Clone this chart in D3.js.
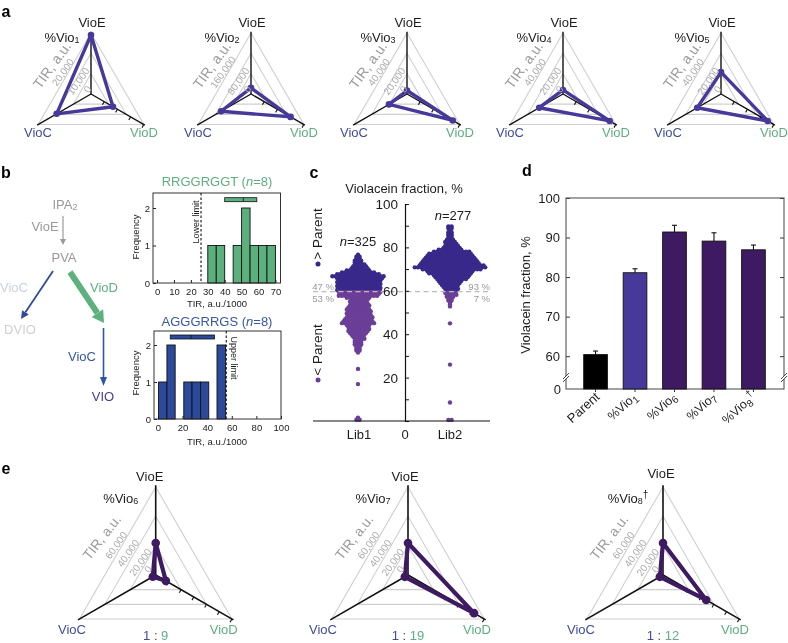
<!DOCTYPE html>
<html><head><meta charset="utf-8">
<script src="https://cdn.jsdelivr.net/npm/d3@7"></script>
<style>
html,body{margin:0;padding:0;background:#fff}
svg{display:block;filter:blur(.3px)}
text{font-family:"Liberation Sans",Arial,sans-serif}
</style></head><body>
<svg id="c" width="788" height="643"></svg>
<script>
// ---------- data ----------
const axisNames = ["VioE","VioC","VioD"];
const radarATitles = ["1","2","3","4","5"];
const radarAMax = [30000,240000,60000,60000,60000];
const radarATicks = [["10,000","20,000"],["80,000","160,000"],["20,000","40,000"],["20,000","40,000"],["20,000","40,000"]];
const vio1 = [29000,19500,12500];
const vio2 = [24000,136000,180000];
const vio3 = [3400,20500,52000];
const vio4 = [4000,27000,53000];
const vio5 = [21500,27000,53000];
const radarEMax = 60000;
const radarETicks = ["20,000","40,000","60,000"];
const vio6 = [21800,2300,8000];
const vio7 = [21800,2500,52000];
const vio8 = [21800,2500,34000];
const ratioRight = ["9","19","12"];

const hist1X0 = [30,35,45,50,55,60,65];
const hist1X1 = [35,40,50,55,60,65,70];
const hist1Y  = [1,1,1,2,1,1,1];
const hist1Ticks = [0,10,20,30,40,50,60,70];
const hist1Limit = 26;
const hist1Range = [40,51,59];
const hist2X0 = [0.5,7.3,21,27.7,34.7,48];
const hist2X1 = [7.3,14,27.7,34.7,41.3,55];
const hist2Y  = [1,2,1,1,1,2];
const hist2Ticks = [0,20,40,60,80,100];
const hist2Limit = 55.5;
const hist2Range = [10,27,46];

const lib1Levels = [76.6,75.7,74.8,73.9,73,72.1,71.2,70.3,69.4,68.5,67.6,66.7,65.8,64.9,64,63.1,62.2,61.3,60.4,59.5,58.6,57.7,56.8,55.9,55,54.1,53.2,52.3,51.4,50.5,49.6,48.7,47.8,46.9,46,45.1,44.2,43.3,42.4,41.5,40.6,39.7,38.8,37.9,37,36.1,35.2,34.3,33.4,32.5,31.6,24,17,1.5,0.6];
const lib1Counts = [1,2,2,3,3,4,5,6,8,11,14,17,15,14,14,14,14,14,14,14,13,13,8,6,6,6,7,7,8,8,8,8,9,9,10,11,8,7,7,7,6,5,4,4,3,3,3,2,2,2,1,1,1,1,2];
const lib2Levels = [89.7,88.8,87.9,87,86.1,85.2,84.3,83.4,82.5,81.6,80.7,79.8,78.9,78,77.1,76.2,75.3,74.4,73.5,72.6,71.7,70.8,69.9,69,68.1,67.2,66.3,65.4,64.5,63.6,62.7,61.8,60.9,60,59.1,58.2,57.3,56.4,55.5,54.6,53.7,52.8,45,26,8.5,0.5];
const lib2Counts = [2,2,1,2,2,2,2,3,4,4,5,6,8,12,14,15,16,17,18,19,21,23,19,15,14,12,11,10,8,7,6,5,5,4,4,4,3,2,2,1,1,1,1,1,1,2];
const parentValue = 60;

const barNames = [["Parent",""],["%Vio","1"],["%Vio","6"],["%Vio","7"],["%Vio","8"]];
const barValues = [60.4,81.1,91.4,89.1,86.9];
const barErrors = [61.3,82.1,93.1,91.2,88.1];
const barTicks = [60,70,80,90,100];

// ---------- palette ----------
const purpleA="#47399a", purpleE="#3d1a62", blue="#3f4c9e", green="#5fae80", grey="#999", ring="#cfcfcf", ink="#1c1c1c";
const svg=d3.select("#c");
function T(x,y,s,o={}){
  const t=svg.append("text").attr("x",x).attr("y",y).attr("font-size",o.size||13).attr("fill",o.fill||ink)
    .attr("text-anchor",o.anchor||"middle").attr("dominant-baseline","central");
  if(o.weight)t.attr("font-weight",o.weight);
  if(o.rot!=null)t.attr("transform",`rotate(${o.rot} ${x} ${y})`);
  t.append("tspan").text(s).attr("font-style",o.italic?"italic":null);
  return t;
}
function sub(t,s,size,dy=3){t.append("tspan").attr("dy",dy).attr("font-size",size).text(s);return t;}

// ---------- radar ----------
const ang=[-90,150,30].map(d=>d*Math.PI/180);
function pt(r,k,cx,cy){return [cx+r*Math.cos(ang[k]),cy+r*Math.sin(ang[k])];}
function radar(o){
  const {cx,cy,R,max,vals,color,sw,dot,tickStep}=o;
  const r=d3.scaleLinear().domain([0,max]).range([0,R]);
  const g=svg.append("g");
  const line=d3.line();
  (o.rings).forEach(v=>{
    g.append("path").attr("d",line([0,1,2].map(k=>pt(r(v),k,cx,cy)))+"Z").attr("fill","none").attr("stroke",ring).attr("stroke-width",1.1);
  });
  [0,1,2].forEach(k=>{
    g.append("path").attr("d",line([[cx,cy],pt(R*1.02,k,cx,cy)])).attr("stroke","#111").attr("stroke-width",o.axisW).attr("fill","none");
  });
  d3.range(tickStep,max*1.001,tickStep).forEach(v=>{
    const p=pt(r(v),2,cx,cy);
    g.append("path").attr("d",line([p,[p[0]-1.8,p[1]+3.1]])).attr("stroke","#111").attr("stroke-width",1.1);
  });
  const poly=vals.map((v,k)=>pt(r(v),k,cx,cy));
  g.append("path").attr("d",line(poly)+"Z").attr("fill","none").attr("stroke",color).attr("stroke-width",sw).attr("stroke-linejoin","round");
  g.selectAll("circle").data(poly).join("circle").attr("cx",d=>d[0]).attr("cy",d=>d[1]).attr("r",dot).attr("fill",color);
}
const aCx=[91,251,407,563,721], aCy=94, aR=61;
[vio1,vio2,vio3,vio4,vio5].forEach((v,i)=>{
  const cx=aCx[i], m=radarAMax[i];
  radar({cx,cy:aCy,R:aR,max:m,vals:v,color:purpleA,sw:3.4,dot:3.3,axisW:1.4,tickStep:m/4,rings:[m/3,2*m/3,m]});
  T(cx+1,22,axisNames[0]);
  T(cx-53,132,axisNames[1],{fill:blue});
  T(cx+53,132,axisNames[2],{fill:green});
  sub(T(cx-29,37,"%Vio"),radarATitles[i],9);
  T(cx-39,65,"TIR, a.u.",{fill:grey,rot:-54,size:14});
  T(cx-13,81,radarATicks[i][0],{fill:"#aaa",rot:-55,size:10});
  T(cx-28.5,72,radarATicks[i][1],{fill:"#aaa",rot:-55,size:10});
  T(cx-4,89,"0",{fill:"#aaa",rot:-55,size:10});
});
const eCx=[155.7,408,663], eCy=575, eR=88, eTitle=["6","7","8"];
const eLab=[[-6,-83.7,68],[-3,-85,69],[-2,-82,72]], eTop=[476,476,473];
[vio6,vio7,vio8].forEach((v,i)=>{
  const cx=eCx[i];
  radar({cx,cy:eCy,R:eR,max:radarEMax,vals:v,color:purpleE,sw:4.2,dot:4.3,axisW:1.6,tickStep:10000,rings:[20000,40000,60000]});
  T(cx+eLab[i][0],eTop[i],axisNames[0]);
  T(cx+eLab[i][1],629,axisNames[1],{fill:blue});
  T(cx+eLab[i][2],629,axisNames[2],{fill:green});
  const tt=sub(T(cx-35,497.5,"%Vio"),eTitle[i],9);
  if(i==2){tt.append("tspan").attr("dy",-7).attr("font-size",10).text("\u2020");}
  T(cx-54,537,"TIR, a.u.",{fill:grey,rot:-52,size:13.7});
  radarETicks.forEach((s,k)=>T(cx+[-15.7,-28,-40][k],eCy+[-13,-22,-30][k],s,{fill:"#aaa",rot:-55,size:10}));
  T(cx-8,569,"0",{fill:"#aaa",rot:-55,size:10});
  const rt=svg.append("text").attr("x",cx).attr("y",635).attr("font-size",13).attr("text-anchor","middle").attr("dominant-baseline","central");
  rt.append("tspan").attr("fill",blue).text("1");
  rt.append("tspan").attr("fill","#444").text(" : ");
  rt.append("tspan").attr("fill",green).text(ratioRight[i]);
});

// ---------- pathway ----------
function arrow(x1,y1,x2,y2,color,w,hw,hl){
  const a=Math.atan2(y2-y1,x2-x1),bx=x2-hl*Math.cos(a),by=y2-hl*Math.sin(a),nx=-Math.sin(a),ny=Math.cos(a);
  svg.append("line").attr("x1",x1).attr("y1",y1).attr("x2",bx).attr("y2",by).attr("stroke",color).attr("stroke-width",w);
  svg.append("path").attr("d",d3.line()([[x2,y2],[bx+nx*hw,by+ny*hw],[bx-nx*hw,by-ny*hw]])+"Z").attr("fill",color);
}
sub(T(65,204,"IPA",{fill:grey}),"2",9);
T(45,226,"VioE",{fill:grey});
arrow(63,216,63,245,"#999",1.2,3,6);
T(64,257,"PVA",{fill:grey});
T(14,287,"VioC",{fill:"#ccd0e2"});
T(20,329,"DVIO",{fill:"#cfcfd4"});
arrow(53,271,21,319,"#2f4a9a",1.8,4,8);
arrow(70,272,104,323,"#5fb07f",6,7,12);
T(104,287,"VioD",{fill:green});
arrow(103.5,328,103.5,386,"#2f55a5",1.6,3.5,9);
T(82,356,"VioC",{fill:"#3657a5"});
T(103,396,"VIO",{fill:"#45409a"});

// ---------- histograms ----------
function hist(o){
  const x=d3.scaleLinear().domain(o.xd).range([o.l,o.r]);
  const y=d3.scaleLinear().domain([0,2]).range([o.b,o.t2]);
  const xa=svg.append("g").attr("transform",`translate(0,${o.b})`).call(d3.axisBottom(x).tickValues(o.ticks).tickSize(-3).tickPadding(5));
  const ya=svg.append("g").attr("transform",`translate(${o.l},0)`).call(d3.axisLeft(y).tickValues([0,1,2]).tickFormat(d3.format("d")).tickSize(-3).tickPadding(3));
  [xa,ya].forEach(a=>{a.select(".domain").remove();a.selectAll("text").attr("font-size",9.5).attr("font-family","Liberation Sans").attr("fill",ink);a.selectAll("line").attr("stroke","#222");});
  svg.append("g").selectAll("rect").data(o.x0).join("rect")
    .attr("x",d=>x(d)).attr("width",(d,i)=>x(o.x1[i])-x(d)).attr("y",(d,i)=>y(o.ys[i])).attr("height",(d,i)=>y(0)-y(o.ys[i]))
    .attr("fill",o.color).attr("stroke","#111").attr("stroke-width",.9);
  svg.append("rect").attr("x",o.l).attr("y",o.t).attr("width",o.r-o.l).attr("height",o.b-o.t).attr("fill","none").attr("stroke","#333").attr("stroke-width",1);
  svg.append("line").attr("x1",x(o.limit)).attr("x2",x(o.limit)).attr("y1",o.t).attr("y2",o.b).attr("stroke","#111").attr("stroke-width",1.1).attr("stroke-dasharray","2.5,2");
  svg.append("rect").attr("x",x(o.range[0])).attr("width",x(o.range[2])-x(o.range[0])).attr("y",o.ry-2).attr("height",4).attr("fill",o.color).attr("stroke","#111").attr("stroke-width",.8);
  svg.append("line").attr("x1",x(o.range[1])).attr("x2",x(o.range[1])).attr("y1",o.ry-2).attr("y2",o.ry+2).attr("stroke","#111").attr("stroke-width",.8);
}
hist({xd:[-2.4,73],l:153,r:280.5,t:193,b:283,t2:208,ticks:hist1Ticks,x0:hist1X0,x1:hist1X1,ys:hist1Y,color:"#5bb07d",limit:hist1Limit,range:hist1Range,ry:199.7});
hist({xd:[-3.2,100],l:154,r:281,t:331,b:419,t2:345,ticks:hist2Ticks,x0:hist2X0,x1:hist2X1,ys:hist2Y,color:"#2c4a9c",limit:hist2Limit,range:hist2Range,ry:337});
function histTitle(x,y,a,fill){const t=T(x,y,a+" (",{fill});t.append("tspan").attr("font-style","italic").text("n");t.append("tspan").text("=8)");}
histTitle(217,181,"RRGGRGGT",green);
histTitle(217,321,"AGGGRRGS","#3657a5");
T(217,303,"TIR, a.u./1000",{size:9.5});
T(217,441,"TIR, a.u./1000",{size:9.5});
T(135,237,"Frequency",{size:9.5,rot:-90});
T(135,373,"Frequency",{size:9.5,rot:-90});
T(196,222,"Lower limit",{size:9,rot:-90});
T(234,358,"Upper limit",{size:9,rot:90});

// ---------- swarm ----------
const yC=d3.scaleLinear().domain([0,100]).range([421,204]);
function swarm(levels,counts,cx){
  const sp=3.2, pts=[];
  levels.forEach((v,i)=>{
    const n=counts[i];
    for(let j=0;j<n;j++){
      pts.push({x:cx+(j-(n-1)/2)*sp+(n>3?(((n%2==0)==(i%2==0))?0:sp/2):0),v});
    }
  });
  svg.append("g").selectAll("circle").data(pts).join("circle")
    .attr("cx",d=>d.x).attr("cy",d=>yC(d.v)).attr("r",2.2)
    .attr("fill",d=>d.v>=parentValue?"#38298a":"#6b3f98");
}
swarm(lib1Levels,lib1Counts,358);
swarm(lib2Levels,lib2Counts,450);
svg.append("line").attr("x1",313).attr("x2",490).attr("y1",yC(59.6)).attr("y2",yC(59.6)).attr("stroke","#bbb").attr("stroke-width",1.1).attr("stroke-dasharray","5,3.5");
svg.append("line").attr("x1",313).attr("x2",490).attr("y1",421).attr("y2",421).attr("stroke","#111").attr("stroke-width",1.2);
const ca=svg.append("g").attr("transform","translate(405,0)").call(d3.axisRight(yC).tickValues(d3.range(0,101,10)).tickSize(4).tickFormat(""));
ca.select(".domain").attr("stroke","#111").attr("stroke-width",1.2);
ca.selectAll("line").attr("stroke","#111");
[100,80,60,40,20].forEach(v=>T(398,yC(v),String(v),{anchor:"end",size:13.5}));
T(405,434,"0");T(359,434,"Lib1");T(450,434,"Lib2");
T(404,188,"Violacein fraction, %");
function nLab(x,y,s){const t=T(x,y,"n",{});t.select("tspan").attr("font-style","italic");t.append("tspan").text(s);}
nLab(358,241,"=325");nLab(453,215,"=277");
T(323,286,"47 %",{fill:grey,size:9.5});T(323,297.5,"53 %",{fill:grey,size:9.5});
T(490,286,"93 %",{fill:grey,size:9.5,anchor:"end"});T(490,297.5,"7 %",{fill:grey,size:9.5,anchor:"end"});
T(317,234,"> Parent",{rot:-90,size:13.5});T(317,350,"< Parent",{rot:-90,size:13.5});
svg.append("circle").attr("cx",318).attr("cy",264).attr("r",2.5).attr("fill","#38298a");
svg.append("circle").attr("cx",318).attr("cy",380).attr("r",2.5).attr("fill","#6b3f98");

// ---------- bars ----------
const breakBase=51.7;
const yD=d3.scaleLinear().domain([breakBase,100]).range([389,198]);
const xD=d3.scaleBand().domain(d3.range(barValues.length)).range([583.7,765.3]).paddingInner(.4).paddingOuter(0);
const barCol=["#000",purpleA,purpleE,purpleE,purpleE];
const dT=svg.append("g").attr("transform","translate(566,0)").call(d3.axisLeft(yD).tickValues(barTicks).tickSize(-4).tickPadding(6));
dT.select(".domain").remove();dT.selectAll("text").attr("font-size",13).attr("font-family","Liberation Sans").attr("fill",ink);dT.selectAll("line").attr("stroke","#333");
const dR=svg.append("g").attr("transform","translate(784,0)").call(d3.axisRight(yD).tickValues(barTicks).tickSize(-4).tickFormat(""));
dR.select(".domain").remove();dR.selectAll("line").attr("stroke","#333");
svg.append("rect").attr("x",566).attr("y",198).attr("width",218).attr("height",191).attr("fill","none").attr("stroke","#555").attr("stroke-width",1.1);
T(561,389,"0",{anchor:"end"});
svg.append("g").selectAll("g").data(barValues).join("g").each(function(v,i){
  const g=d3.select(this),c=xD(i)+xD.bandwidth()/2,e=barErrors[i];
  g.append("line").attr("x1",c).attr("x2",c).attr("y1",yD(v)).attr("y2",yD(e)).attr("stroke","#111").attr("stroke-width",1.1);
  g.append("line").attr("x1",c-2.5).attr("x2",c+2.5).attr("y1",yD(e)).attr("y2",yD(e)).attr("stroke","#111").attr("stroke-width",1.1);
  g.append("rect").attr("x",xD(i)).attr("width",xD.bandwidth()).attr("y",yD(v)).attr("height",389-yD(v)).attr("fill",barCol[i]).attr("stroke","#111").attr("stroke-width",.9);
  g.append("line").attr("x1",c).attr("x2",c).attr("y1",389).attr("y2",392).attr("stroke","#333");
  const px=c+(i==0?5:3), py=398;
  const t=svg.append("text").attr("x",px).attr("y",py).attr("text-anchor","end").attr("font-size",i==0?13:12.5).attr("fill",ink).attr("transform",`rotate(-42 ${px} ${py})`);
  t.append("tspan").text(barNames[i][0]);
  if(barNames[i][1]){t.append("tspan").attr("dy",3).attr("font-size",10).text(barNames[i][1]);}
  if(i==4){t.append("tspan").attr("dy",-8).attr("font-size",10).text("\u2020");}
});
T(525,295,"Violacein fraction, %",{rot:-90});
[566,784].forEach(x=>{
  svg.append("rect").attr("x",x-3).attr("y",376).attr("width",6).attr("height",3).attr("fill","#fff");
  [376,379].forEach(y=>svg.append("line").attr("x1",x-3).attr("x2",x+3).attr("y1",y+3).attr("y2",y-3).attr("stroke","#444").attr("stroke-width",1));
});

// ---------- panel letters ----------
[["a",6,11],["b",6,172],["c",314,172],["d",527,170],["e",6,468]].forEach(d=>T(d[1],d[2],d[0],{size:16,weight:"bold",fill:"#000"}));
</script>
</body></html>
